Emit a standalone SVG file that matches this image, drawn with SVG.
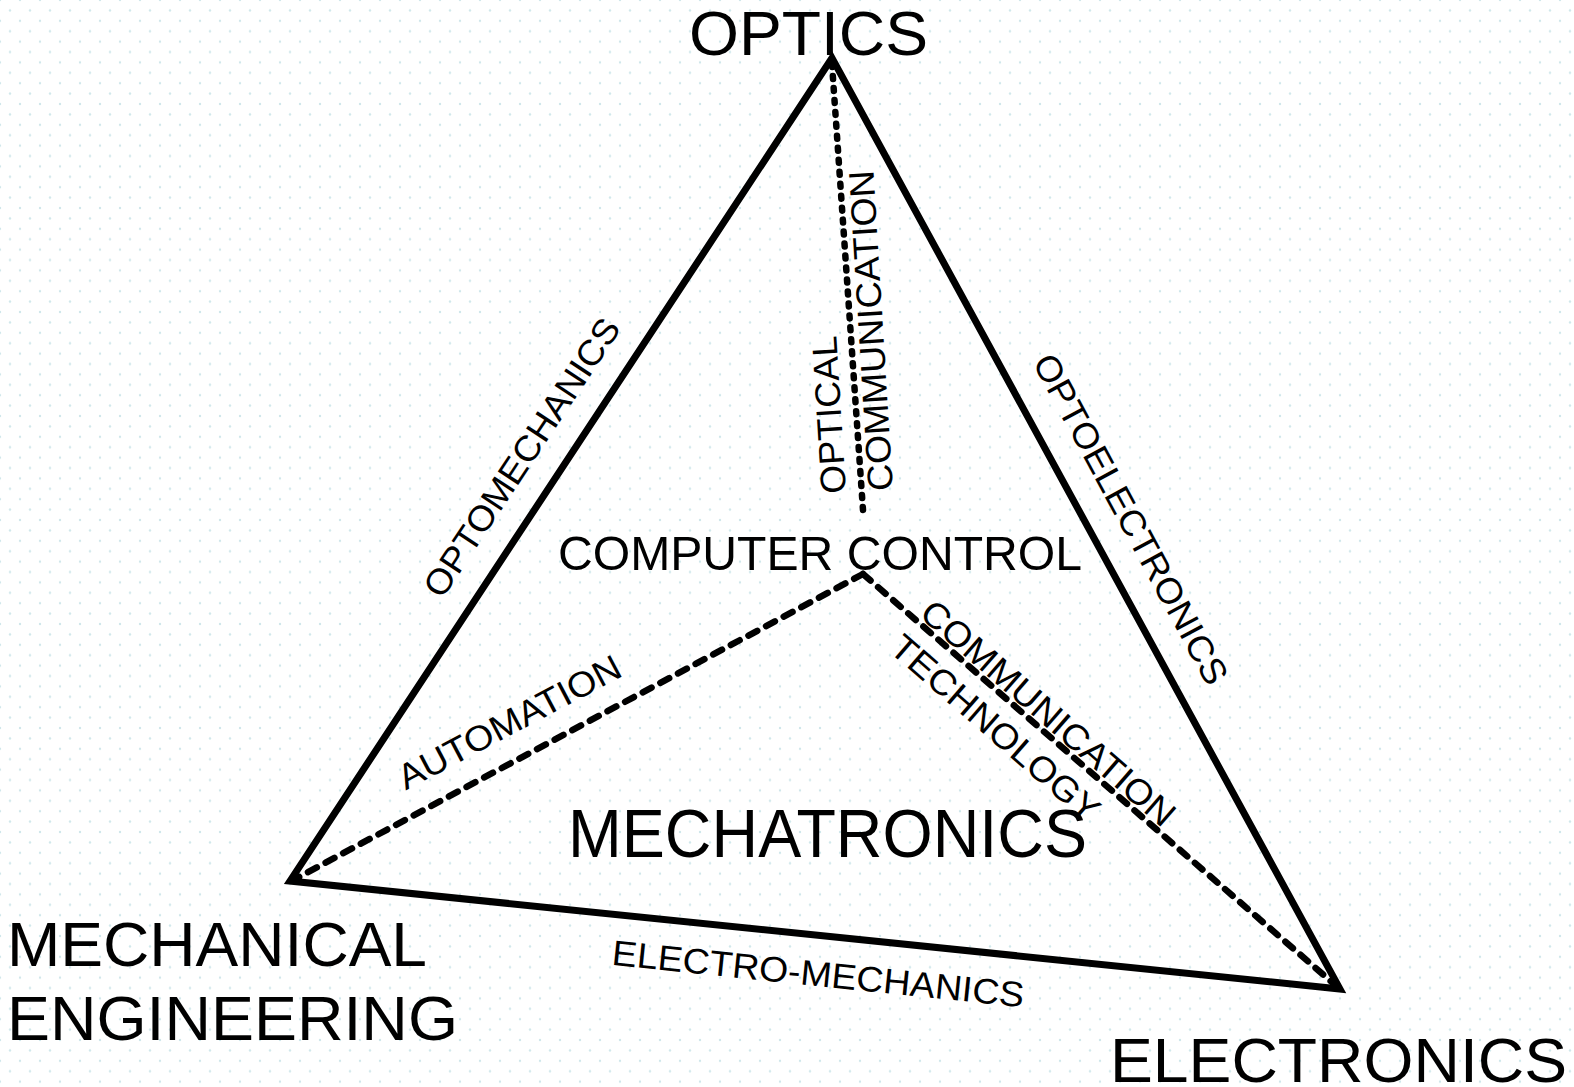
<svg xmlns="http://www.w3.org/2000/svg" width="1574" height="1087" viewBox="0 0 1574 1087">
  <defs>
    <pattern id="dots" x="0" y="0" width="20" height="20.8" patternUnits="userSpaceOnUse">
      <circle cx="0" cy="0" r="1.2" fill="#cfe7eb"/>
      <circle cx="20" cy="0" r="1.2" fill="#cfe7eb"/>
      <circle cx="0" cy="20.8" r="1.2" fill="#cfe7eb"/>
      <circle cx="20" cy="20.8" r="1.2" fill="#cfe7eb"/>
      <circle cx="10" cy="10.4" r="1.2" fill="#cfe7eb"/>
    </pattern>
    <style>
      text { font-family: "Liberation Sans", Arial, sans-serif; fill: #000; }
      .big { font-size: 63px; }
      .mid { font-size: 48px; }
      .lbl { font-size: 35.5px; }
      .edge { fill: none; stroke: #000; stroke-width: 7; stroke-linejoin: miter; }
      .dash { fill: none; stroke: #000; stroke-width: 6.5; stroke-linecap: round; }
    </style>
  </defs>
  <rect x="0" y="0" width="1574" height="1087" fill="#ffffff"/>
  <rect x="0" y="0" width="1574" height="1087" fill="url(#dots)"/>

  <g id="connectors">
    <polygon class="edge" points="832,58 290,881 1340,989"/>
    <line class="dash" x1="832" y1="64" x2="863" y2="510" stroke-width="7" stroke-dasharray="3 9"/>
    <line class="dash" x1="863" y1="574" x2="297" y2="878" stroke-dasharray="10 10"/>
    <line class="dash" x1="863" y1="574" x2="1334" y2="984" stroke-dasharray="10 10"/>
  </g>

  <g id="node-optics">
    <text class="big" x="689" y="55" textLength="239" lengthAdjust="spacingAndGlyphs">OPTICS</text>
  </g>
  <g id="node-mechanical-engineering">
    <text class="big" x="7" y="966" textLength="420" lengthAdjust="spacingAndGlyphs">MECHANICAL</text>
    <text class="big" x="7" y="1040" textLength="451" lengthAdjust="spacingAndGlyphs">ENGINEERING</text>
  </g>
  <g id="node-electronics">
    <text class="big" x="1110" y="1082" textLength="457" lengthAdjust="spacingAndGlyphs">ELECTRONICS</text>
  </g>
  <g id="node-computer-control">
    <text class="mid" x="558" y="570" textLength="524" lengthAdjust="spacingAndGlyphs">COMPUTER CONTROL</text>
  </g>
  <g id="node-mechatronics">
    <text x="568" y="857" font-size="68" textLength="519" lengthAdjust="spacingAndGlyphs">MECHATRONICS</text>
  </g>

  <g id="labels">
    <text class="lbl" text-anchor="middle" transform="translate(532,464) rotate(-56.5)" textLength="326" lengthAdjust="spacingAndGlyphs">OPTOMECHANICS</text>
    <text class="lbl" text-anchor="middle" transform="translate(1120,525) rotate(61.6)" textLength="370" lengthAdjust="spacingAndGlyphs">OPTOELECTRONICS</text>
    <text class="lbl" text-anchor="middle" transform="translate(817,986) rotate(5.9)" textLength="414" lengthAdjust="spacingAndGlyphs">ELECTRO-MECHANICS</text>
    <text class="lbl" text-anchor="middle" transform="translate(515,733) rotate(-27.8)" textLength="247" lengthAdjust="spacingAndGlyphs">AUTOMATION</text>
    <g transform="translate(846,493) rotate(-93.5)">
      <text class="lbl" x="0" y="0" textLength="158" lengthAdjust="spacingAndGlyphs">OPTICAL</text>
      <text class="lbl" x="0" y="47" textLength="321" lengthAdjust="spacingAndGlyphs">COMMUNICATION</text>
    </g>
    <g transform="translate(918,616) rotate(41)">
      <text class="lbl" x="0" y="0" textLength="324" lengthAdjust="spacingAndGlyphs">COMMUNICATION</text>
      <text class="lbl" x="0" y="46" textLength="264" lengthAdjust="spacingAndGlyphs">TECHNOLOGY</text>
    </g>
  </g>
</svg>
